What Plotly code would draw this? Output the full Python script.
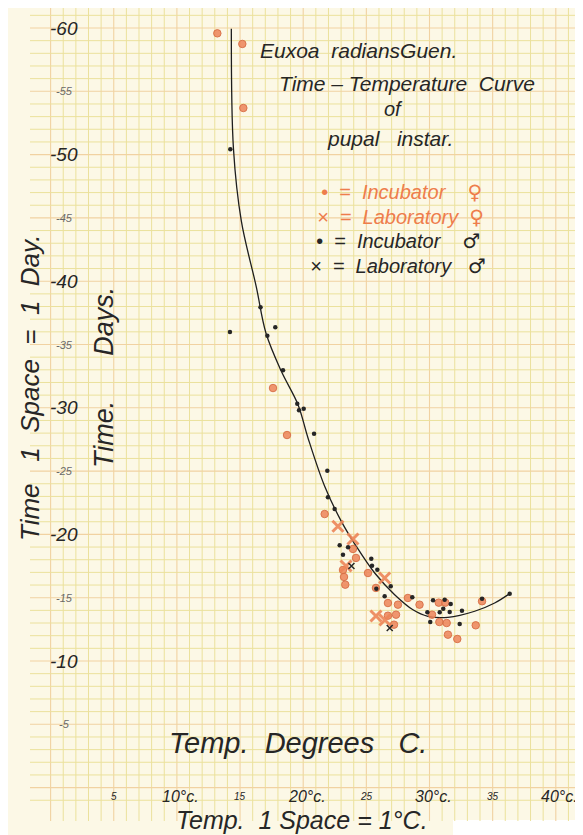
import plotly.graph_objects as go

# ---------------- data ----------------
# Incubator, female (orange dots)
inc_f_temp = [13.20, 15.18, 15.26, 17.61, 18.72, 21.70, 24.18, 23.94, 23.23, 23.33, 23.15,
              25.13, 25.76, 26.71, 27.50, 28.29, 29.21, 26.71, 27.35, 27.19, 30.20, 30.73,
              31.25, 30.78, 31.36, 31.46, 32.20, 33.66, 34.16]
inc_f_days = [59.58, 58.74, 53.68, 31.56, 27.85, 21.61, 18.14, 18.85, 16.64, 16.03, 17.19,
              16.95, 15.77, 14.58, 14.45, 14.98, 14.45, 13.58, 13.66, 12.87, 13.66, 14.61,
              14.61, 13.08, 13.00, 12.08, 11.74, 12.82, 14.72]
# Laboratory, female (orange crosses)
lab_f_temp = [22.75, 23.94, 23.39, 26.45, 25.76, 26.47]
lab_f_days = [20.64, 19.64, 17.50, 16.56, 13.55, 13.24]
# Incubator, male (black dots)
inc_m_temp = [14.23, 14.20, 16.62, 17.79, 17.16, 18.40, 19.53, 19.67, 20.04, 20.86, 21.91,
              21.96, 22.49, 22.89, 23.55, 23.15, 25.39, 25.45, 25.87, 25.79, 26.93, 26.45,
              28.64, 30.28, 31.20, 31.68, 31.09, 30.81, 29.83, 31.60, 30.06, 32.39, 32.57,
              34.16, 36.35]
inc_m_days = [50.42, 35.99, 37.94, 36.36, 35.70, 32.96, 30.32, 29.80, 29.93, 27.96, 25.03,
              22.93, 22.01, 19.14, 18.98, 18.40, 18.08, 17.53, 17.21, 15.71, 15.90, 15.11,
              15.03, 14.79, 14.84, 14.50, 14.13, 13.85, 13.85, 13.87, 13.08, 12.92, 13.97,
              14.92, 15.32]
# Laboratory, male (black crosses)
lab_m_temp = [23.82, 26.85]
lab_m_days = [17.50, 12.61]
# fitted time-temperature curve
curve_temp = [14.31, 14.48, 15.10, 16.29, 17.05, 18.27, 19.59, 20.38, 21.70, 23.02, 24.20,
              25.66, 27.24, 28.69, 29.88, 31.46, 33.58, 35.16, 36.35]
curve_days = [59.94, 50.44, 44.76, 39.54, 35.91, 32.88, 30.25, 27.62, 23.80, 21.03, 19.06,
              16.95, 15.24, 14.05, 13.53, 13.45, 13.93, 14.58, 15.32]

# tick labels
y_tick_vals = [60, 55, 50, 45, 40, 35, 30, 25, 20, 15, 10, 5]
y_tick_text = ["60", "55", "50", "45", "40", "35", "30", "25", "20", "15", "10", "5"]
x_tick_vals = [5, 10, 15, 20, 25, 30, 35, 40]
x_tick_text = ["5", "10°c.", "15", "20°c.", "25", "30°c.", "35", "40°c."]

# ---------------- layout helpers ----------------
W, H = 583, 835
PX_X0, PX_PER_X = 42.6, 12.63
PY_TOP, PY_PER_Y = 61.58, 12.66


def px2x(px):
    return (px - PX_X0) / PX_PER_X


def py2y(py):
    return PY_TOP - py / PY_PER_Y


def xp(px):
    return px / W


def yp(py):
    return 1 - py / H


INK = "#262626"
ORANGE = "#ee7d4c"
FONT = "Liberation Sans, Arial, sans-serif"

fig = go.Figure()

# curve
fig.add_trace(go.Scatter(x=curve_temp, y=curve_days, mode="lines",
                         line=dict(color="#1e1e1e", width=1.3, shape="spline", smoothing=1.0),
                         hoverinfo="skip", showlegend=False))
# data points
fig.add_trace(go.Scatter(x=inc_f_temp, y=inc_f_days, mode="markers", name="Incubator ♀",
                         marker=dict(symbol="circle", size=7.5, color="rgba(236,132,88,0.85)",
                                     line=dict(color="rgba(214,110,70,0.9)", width=1)),
                         showlegend=False))
fig.add_trace(go.Scatter(x=lab_f_temp, y=lab_f_days, mode="markers", name="Laboratory ♀",
                         marker=dict(symbol="x-thin", size=11, color=ORANGE,
                                     line=dict(color="rgba(236,132,88,0.9)", width=3)),
                         showlegend=False))
fig.add_trace(go.Scatter(x=inc_m_temp, y=inc_m_days, mode="markers", name="Incubator ♂",
                         marker=dict(symbol="circle", size=4.5, color="#262626"),
                         showlegend=False))
fig.add_trace(go.Scatter(x=lab_m_temp, y=lab_m_days, mode="markers", name="Laboratory ♂",
                         marker=dict(symbol="x-thin", size=6, color="#262626",
                                     line=dict(color="#262626", width=1.5)),
                         showlegend=False))

# ---------------- graph paper ----------------
shapes = []
bg = "#fcf8e6"
y_bot_v = py2y(813)
y_top = py2y(0) + 1
x_left_h = px2x(22)
x_right = px2x(W) + 1
MINOR = "#ebe19c"
MAJOR = "#f1d2a2"
for k in range(0, 43):
    heavy = (k % 5 == 0)
    shapes.append(dict(type="line", xref="x", yref="y", x0=k, x1=k, y0=y_bot_v, y1=y_top,
                       line=dict(color=MAJOR if heavy else MINOR, width=1.1 if heavy else 1),
                       layer="below"))
for k in range(-1, 62):
    heavy = (k % 5 == 0)
    shapes.append(dict(type="line", xref="x", yref="y", x0=x_left_h, x1=x_right, y0=k, y1=k,
                       line=dict(color=MAJOR if heavy else MINOR, width=1.1 if heavy else 1),
                       layer="below"))
# torn white corner bottom right
shapes.append(dict(type="rect", xref="paper", yref="paper", x0=xp(445), x1=1.0, y0=0, y1=yp(812),
                   fillcolor="#ffffff", line=dict(width=0), layer="between"))

annotations = []


def txt(text, px, py, size, color=INK, angle=0, xanchor="center"):
    annotations.append(dict(text=text, x=xp(px), y=yp(py), xref="paper", yref="paper",
                            showarrow=False, textangle=angle, xanchor=xanchor, yanchor="middle",
                            font=dict(family=FONT, size=size, color=color)))


def sym(s):
    return '<span style="font-family:DejaVu Sans">' + s + '</span>'


# y tick labels
for v, t in zip(y_tick_vals, y_tick_text):
    big = (v % 10 == 0)
    annotations.append(dict(text="<i>-" + t + "</i>", x=px2x(56), y=v, xref="x", yref="y",
                            showarrow=False, xanchor="center", yanchor="middle",
                            font=dict(family=FONT, size=19 if big else 11,
                                      color=INK if big else "#6a6a6a")))
# x tick labels
for v, t in zip(x_tick_vals, x_tick_text):
    big = (v % 10 == 0)
    annotations.append(dict(text="<i>" + t + "</i>", x=v + (0.3 if big else 0), y=py2y(788),
                            xref="x", yref="y", showarrow=False, xanchor="center", yanchor="middle",
                            font=dict(family=FONT, size=16 if big else 10, color=INK)))

# titles and legend text
txt("<i>Euxoa  radiansGuen.</i>", 350, 42, 21)
txt("<i>Time – Temperature  Curve</i>", 399, 76, 21)
txt("<i>of</i>", 385, 101, 20)
txt("<i>pupal   instar.</i>", 382, 130, 21)
txt("<i>•  =  Incubator    " + sym("♀") + "</i>", 393, 184, 20, color=ORANGE)
txt("<i>×  =  Laboratory  " + sym("♀") + "</i>", 392, 209, 20, color=ORANGE)
txt("<i>•  =  Incubator    " + sym("♂") + "</i>", 390, 233, 20)
txt("<i>×  =  Laboratory   " + sym("♂") + "</i>", 390, 258, 20)
txt("<i>Time   1  Space  =  1  Day.</i>", 22, 380, 26, angle=-90)
txt("<i>Time.      Days.</i>", 96, 370, 27, angle=-90)
txt("<i>Temp.  Degrees   C.</i>", 290, 735, 29)
txt("<i>Temp.  1 Space = 1°C.</i>", 294, 812, 25)

fig.update_layout(
    width=W, height=H,
    margin=dict(l=0, r=0, t=0, b=0),
    paper_bgcolor=bg, plot_bgcolor=bg,
    xaxis=dict(range=[px2x(0), px2x(W)], visible=False, showgrid=False, zeroline=False, fixedrange=True),
    yaxis=dict(range=[py2y(H), py2y(0)], visible=False, showgrid=False, zeroline=False, fixedrange=True),
    shapes=shapes,
    annotations=annotations,
    showlegend=False,
)

fig.write_html("out.html")
